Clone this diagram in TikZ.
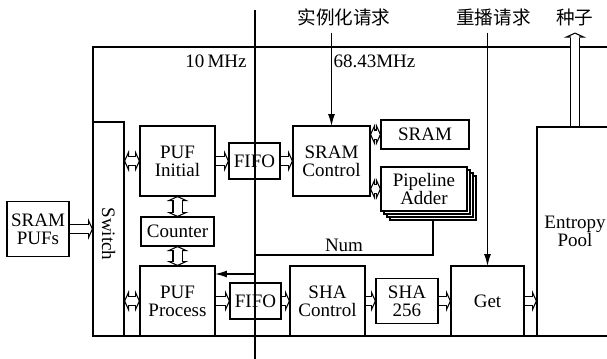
\documentclass[tikz,border=0pt]{standalone}
\usepackage{fontspec}
\setmainfont{Liberation Serif}
\newfontfamily\cjk{Noto Sans CJK SC}
\usepackage{tikz}
\usetikzlibrary{arrows.meta,positioning,shadows,backgrounds}

\begin{document}
\begin{tikzpicture}[
        x=0.5pt, y=-0.5pt,
        box/.style={draw, line width=0.6pt, outer sep=0pt, align=center, inner sep=1pt, font=\fontsize{9.5}{9}\selectfont},
        lbl/.style={inner sep=0pt, font=\fontsize{9.5}{10}\selectfont},
        zh/.style={inner sep=0pt, font=\cjk\fontsize{9.3}{10}\selectfont},
        fat/.style={draw=white, line width=4pt, shorten >=0.66pt, -{Triangle[length=1.25pt, width=5.5pt, line width=0pt]},
            preaction={draw=black, line width=5.2pt, shorten >=0pt, -{Triangle[length=2.5pt, width=11pt, line width=0pt]}}},
        dfat/.style={draw=white, line width=4pt, shorten >=0.66pt, shorten <=0.66pt,
            {Triangle[length=1.25pt, width=5.5pt, line width=0pt]}-{Triangle[length=1.25pt, width=5.5pt, line width=0pt]},
            preaction={draw=black, line width=5.2pt, shorten >=0pt, shorten <=0pt,
                {Triangle[length=2.5pt, width=11pt, line width=0pt]}-{Triangle[length=2.5pt, width=11pt, line width=0pt]}}},
        >={Latex[length=6pt,width=3.5pt]}
    ]
        \useasboundingbox (0,0) rectangle (607,359);
        \clip (0,0) rectangle (607,359);

        % clock border
        \draw[line width=0.6pt] (255,10) -- (255,359);
        \node[lbl] (slow) at (216,61) {10\,MHz};
        \node[lbl] (fast) at (374.5,61) {68.43MHz};
        \node[zh] (reqinit) at (344,17) {实例化请求};
        \node[zh] (reqplay) at (493.5,17) {重播请求};
        \node[zh] (seed) at (575,17) {种子};

        \node[box, minimum width=15.5pt, minimum height=107pt] (switch) at (108.5,229) {};
        \node[lbl, rotate=-90, xshift=2.5pt] at (switch.center) {Switch};
        \node[box, minimum width=31pt, minimum height=27.5pt, left=12pt of switch] (srampuf) {SRAM\\PUFs};
        \node[box, minimum width=37.5pt, minimum height=35pt] (pufinit) at (177.5,161) {PUF\\Initial};
        \node[box, minimum width=36.5pt, minimum height=14.5pt, below=10.5pt of pufinit] (counter) {Counter};
        \node[box, minimum width=37.5pt, minimum height=35pt, below=10pt of counter] (pufproc) {PUF\\Process};
        \node[box, minimum width=25.5pt, minimum height=18pt, right=7pt of pufinit] (fifoa) {FIFO};
        \node[box, minimum width=25.5pt, minimum height=18pt, right=7.5pt of pufproc] (fifob) {FIFO};
        \node[box, minimum width=38.5pt, minimum height=35pt, right=6.5pt of fifoa] (sramctl) {SRAM\\Control};
        \node[box, minimum width=44pt, minimum height=14.5pt] (sram) at (425,134.5) {SRAM};
        \node[box, fill=white, minimum width=43pt, minimum height=22pt,
            copy shadow={shadow xshift=4.5pt, shadow yshift=-4.5pt},
            copy shadow={shadow xshift=3pt, shadow yshift=-3pt},
            copy shadow={shadow xshift=1.5pt, shadow yshift=-1.5pt}] (adder) at (424,189) {Pipeline\\Adder};
        \node[box, minimum width=37.5pt, minimum height=35pt, right=4.5pt of fifob] (shactl) {SHA\\Control};
        \node[box, minimum width=31pt, minimum height=22.5pt, right=5.5pt of shactl] (sha) {SHA\\256};
        \node[box, minimum width=36.5pt, minimum height=35pt, right=6.5pt of sha] (get) {Get};
        \node[box, text width=32pt, inner xsep=3pt, minimum height=104.5pt,
            right=6.5pt of get.south east, anchor=south west] (pool) {Entropy\\Pool};

        % frame and data paths behind the blocks
        \begin{scope}[on background layer]
            \draw[line width=0.8pt] (93,47) rectangle (640,336);
            \draw[fat] (srampuf) -- (switch);
            \draw[dfat] (switch.east |- pufinit) -- (pufinit);
            \draw[dfat] (switch.east |- pufproc) -- (pufproc);
            \draw[dfat] (pufinit) -- (counter);
            \draw[dfat] (counter) -- (pufproc);
            \draw[fat] (pufinit) -- (fifoa);
            \draw[fat] (fifoa) -- (sramctl);
            \draw[dfat] (sramctl.east |- sram) -- (sram);
            \draw[dfat] (sramctl.east |- adder) -- (adder);
            \draw[fat] (pufproc) -- (fifob);
            \draw[fat] (fifob) -- (shactl);
            \draw[fat] (shactl) -- (sha);
            \draw[fat] (sha) -- (get);
            \draw[fat] (get.east) -- (get.east -| pool.west);
            \draw[fat] (pool.north) -- ([yshift=-3.3pt]seed.south -| pool.north);
        \end{scope}

        % control signals
        \draw[->, line width=0.6pt, shorten <=3.3pt] (reqinit.south -| sramctl.north) -- (sramctl.north);
        \draw[->, line width=0.6pt, shorten <=3.3pt] (reqplay.south -| get.north) -- (get.north);
        \draw[->, line width=0.6pt] ([shift={(4.5pt,-4.5pt)}]adder.south) |- node[lbl, above=1.5pt, pos=0.75] {Num} (255,255)
            |- ([yshift=-4pt]pufproc.north east);
    \end{tikzpicture}
\end{document}
